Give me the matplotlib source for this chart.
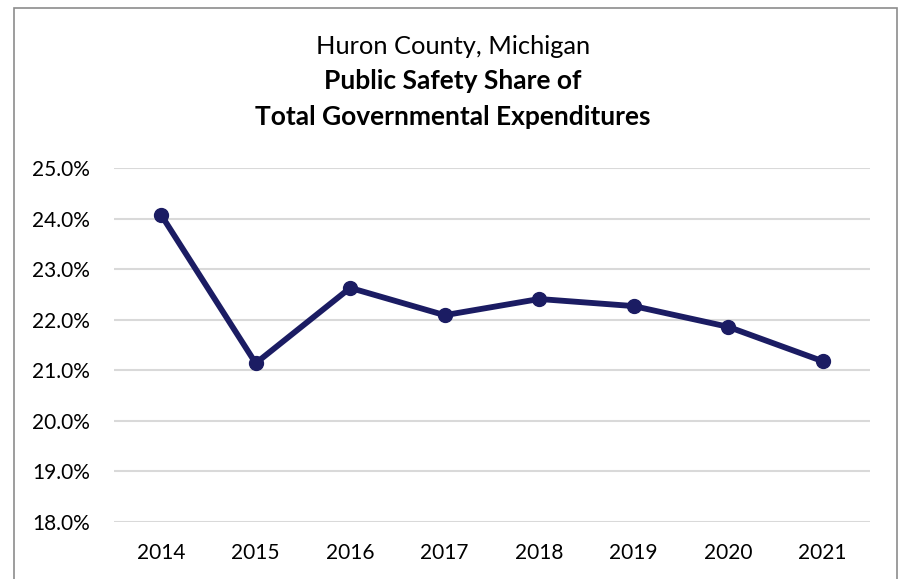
import matplotlib.pyplot as plt
from matplotlib.patches import Rectangle
from matplotlib.ticker import FuncFormatter

plt.rcParams['font.family'] = ['Lato', 'DejaVu Sans']

years = ["2014", "2015", "2016", "2017", "2018", "2019", "2020", "2021"]
share = [24.07, 21.14, 22.63, 22.09, 22.41, 22.27, 21.86, 21.18]

line_color = "#1B1C63"

fig = plt.figure(figsize=(9.06, 5.79), dpi=100)
ax = fig.add_axes([0.1258, 0.0984, 0.8344, 0.6114])

x = range(len(years))
ax.plot(x, share, color=line_color, linewidth=4.2, marker="o", markersize=10,
        solid_joinstyle="round", zorder=3)

ax.set_xlim(-0.5, len(years) - 0.5)
ax.set_ylim(18, 25)
ax.set_yticks([18, 19, 20, 21, 22, 23, 24, 25])
ax.yaxis.set_major_formatter(FuncFormatter(lambda v, p: f"{v:.1f}%"))
ax.set_xticks(list(x))
ax.set_xticklabels(years)
ax.tick_params(length=0, labelsize=15, pad=15)
ax.tick_params(axis="y", pad=17)
ax.grid(axis="y", color="#D9D9D9", linewidth=1.5)
ax.set_axisbelow(True)
for s in ax.spines.values():
    s.set_visible(False)

# chart border
fig.patches.append(Rectangle((14 / 906, -0.05), (897 - 14) / 906, 1 - 8 / 579 + 0.05,
                             transform=fig.transFigure, fill=False,
                             edgecolor="#8C8C8C", linewidth=1.2))

fig.text(0.5, 1 - 47 / 579, "Huron County, Michigan", ha="center", va="center", fontsize=18.3)
fig.text(0.5, 1 - 81 / 579, "Public Safety Share of", ha="center", va="center",
         fontsize=19, fontweight="bold")
fig.text(0.5, 1 - 117 / 579, "Total Governmental Expenditures", ha="center", va="center",
         fontsize=19, fontweight="bold")

fig.savefig("out.png", dpi=100)
